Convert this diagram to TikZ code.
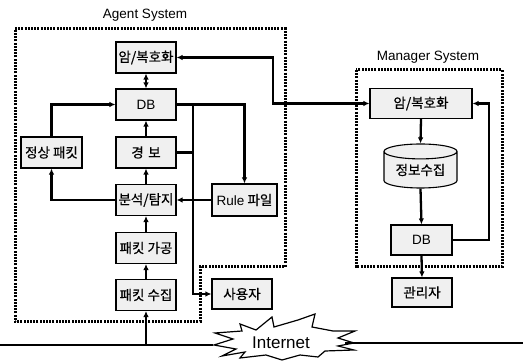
\documentclass[tikz,border=0pt]{standalone}
\usepackage{fontspec}
\setmainfont{Liberation Sans}
\newfontfamily\kr[FakeBold=0.6]{Noto Sans CJK KR}
\usetikzlibrary{arrows.meta,shapes.geometric,calc}
\begin{document}
\begin{tikzpicture}[x=1pt,y=-1pt,
  box/.style={draw,line width=1.1pt,fill=gray!12,minimum height=31pt,inner sep=0pt,
    font=\kr\fontsize{13.5}{14}\selectfont},
  wire/.style={line width=2.3pt},
  arr/.style={wire,-{Latex[length=6pt,width=5.5pt]}},
  darr/.style={wire,{Latex[length=6pt,width=5.5pt]}-{Latex[length=6pt,width=5.5pt]}},
  frame/.style={line width=3pt,dash pattern=on 2pt off 1.2pt},
  title/.style={font=\fontsize{13.5}{15}\selectfont}]
\useasboundingbox (0,0) rectangle (523,363);

% frames
\draw[frame] (15,29) -- (285,29) -- (285,267) -- (200,267) -- (200,322) -- (15,322) -- cycle;
\draw[frame] (356,70) rectangle (502,267);
\node[title] (agentlbl) at (145,15) {Agent System};
\node[title] (mgrlbl) at (428,57) {Manager System};

% agent nodes
\node[box,minimum width=60pt] (aenc) at (146,57.5) {암/복호화};
\node[box,minimum width=60pt,font=\fontsize{13.5}{14}\selectfont] (adb) at (146,104.5) {DB};
\node[box,minimum width=60pt] (alarm) at (146,152.5) {경\,\,보};
\node[box,minimum width=61pt] (normal) at (51.5,152.5) {정상 패킷};
\node[box,minimum width=60pt] (anal) at (146,200) {분석/탐지};
\node[box,minimum width=60pt] (proc) at (146,248) {패킷 가공};
\node[box,minimum width=60pt] (coll) at (146,295) {패킷 수집};
\node[box,minimum width=65pt,minimum height=32pt] (rule) at (244.5,200) {{\fontspec{Liberation Sans}Rule} 파일};
\node[box,minimum width=60pt,minimum height=30pt] (user) at (242,294) {사용자};

% manager nodes
\node[box,minimum width=102pt,minimum height=30pt] (menc) at (421,103.5) {암/복호화};
\node[draw,line width=1.1pt,fill=gray!12,cylinder,shape border rotate=90,aspect=0.3,
  minimum width=73pt,minimum height=44pt,inner sep=0pt,
  font=\kr\fontsize{13.5}{14}\selectfont] (info) at (420.5,170) {정보수집};
\node[box,minimum width=61pt,minimum height=30pt,font=\fontsize{13.5}{14}\selectfont] (mdb) at (421.5,240) {DB};
\node[box,minimum width=60pt,minimum height=29pt] (admin) at (422,292.5) {관리자};

% internet
\coordinate (il) at (213,345);
\coordinate (ir) at (345,343);
\draw[line width=1.2pt,fill=white]
  (214,345) -- (233,339) -- (215,333) -- (242,331) -- (240,324) -- (256,330)
  -- (272,317) -- (274,327) -- (298,320) -- (315,314) -- (312,327) -- (333,331)
  -- (355,331) -- (338,338) -- (354,343) -- (338,346) -- (354,350) -- (325,351)
  -- (318,357) -- (300,355) -- (282,360) -- (266,355) -- (240,358) -- (245,352)
  -- (222,356) -- (236,349) -- cycle;
\node[font=\fontsize{17}{18}\selectfont] (inet) at (281,343) {Internet};
\coordinate (lend) at (0,345);
\coordinate (rend) at (523,343);
\draw[wire] (lend) -- (il);
\draw[wire] (ir) -- (rend);
\coordinate (tap) at (146,345);

% agent connectors
\draw[arr] (tap) -- (coll.south);
\draw[arr] (coll.north) -- (proc.south);
\draw[arr] (proc.north) -- (anal.south);
\draw[arr] (anal.north) -- (alarm.south);
\draw[arr] (alarm.north) -- (adb.south);
\draw[darr] (adb.north) -- (aenc.south);
\draw[arr] (anal.west) -| (normal.south);
\draw[arr] (normal.north) |- (adb.west);
\draw[arr] (adb.east) -| (rule.north);
\coordinate (j1) at (193,104.5);
\draw[arr] (j1) |- (user.west);
\draw[wire] (alarm.east) -- (alarm.east -| j1);
\draw[arr] (rule.west) -- (anal.east);

% link between systems
\coordinate (k) at (273,0);
\draw[darr] (aenc.east) -| (k |- menc.west) -- (menc.west);

% manager connectors
\draw[arr] (menc.south) -- (info.top);
\draw[arr] (info.bottom) -- (mdb.north);
\draw[arr] (mdb.south) -- (admin.north);
\coordinate (k2) at (489,0);
\draw[arr] (mdb.east) -- (mdb.east -| k2) |- (menc.east);
\end{tikzpicture}
\end{document}
